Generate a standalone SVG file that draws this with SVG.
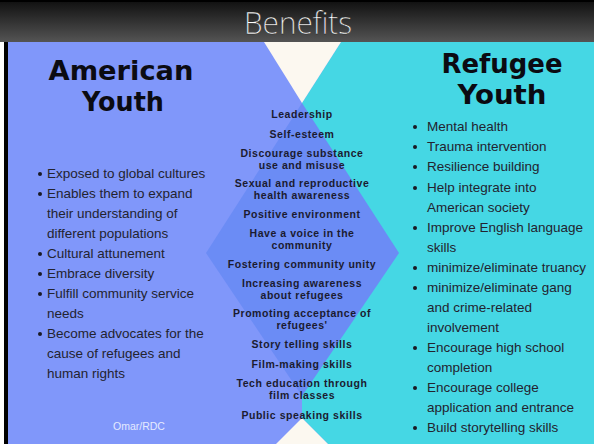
<svg xmlns="http://www.w3.org/2000/svg" width="594" height="444" viewBox="0 0 594 444">
<defs>
<linearGradient id="tg" x1="0" y1="0" x2="0" y2="1">
<stop offset="0" stop-color="#121212"/>
<stop offset="1" stop-color="#545454"/>
</linearGradient>
<style>
.hd{font-family:"DejaVu Sans","Liberation Sans",sans-serif;font-weight:bold;font-size:26px;fill:#0b0b12;text-anchor:middle}
.ct{font-family:"Liberation Sans","Arial",sans-serif;font-weight:bold;font-size:10.5px;letter-spacing:0.55px;fill:#1b1b30;text-anchor:middle}
.bl{font-family:"Liberation Sans","Arial",sans-serif;font-size:13.5px;fill:#23232f}
.dot{fill:#1a1a24}
</style>
</defs>
<g id="background">
<rect x="0" y="0" width="594" height="444" fill="#000"/>
<rect x="0" y="42" width="4" height="402" fill="#ffffff"/>
<rect x="8" y="42" width="586" height="402" fill="#8097fa"/>
<polygon points="341,42 594,42 594,444 328,444 302,418 302,103" fill="#45d7e4"/>
<polygon points="264,42 341,42 302,103" fill="#fcf8f0"/>
<polygon points="276,444 328,444 302,418" fill="#fcf8f0"/>
<polygon points="302,103 399,253 302,396 206,253" fill="#6b8cf5"/>
</g>
<g id="title">
<rect x="0" y="2" width="594" height="40" fill="url(#tg)"/>
<text x="298" y="34" font-family="'Open Sans','DejaVu Sans',sans-serif" font-weight="300" font-size="32" fill="#ffffff" stroke="#222" stroke-width="0.4" text-anchor="middle" textLength="108" lengthAdjust="spacingAndGlyphs">Benefits</text>
</g>
<g id="connectors"></g>
<g id="american-youth">
<text class="hd" x="121" y="80" textLength="145" lengthAdjust="spacingAndGlyphs">American</text>
<text class="hd" x="123" y="111" textLength="82" lengthAdjust="spacingAndGlyphs">Youth</text>
<circle class="dot" cx="40" cy="174" r="2"/>
<circle class="dot" cx="40" cy="194" r="2"/>
<circle class="dot" cx="40" cy="254" r="2"/>
<circle class="dot" cx="40" cy="274" r="2"/>
<circle class="dot" cx="40" cy="294" r="2"/>
<circle class="dot" cx="40" cy="334" r="2"/>
<text class="bl" x="47" y="178">Exposed to global cultures</text>
<text class="bl" x="47" y="198">Enables them to expand</text>
<text class="bl" x="47" y="218">their understanding of</text>
<text class="bl" x="47" y="238">different populations</text>
<text class="bl" x="47" y="258">Cultural attunement</text>
<text class="bl" x="47" y="278">Embrace diversity</text>
<text class="bl" x="47" y="298">Fulfill community service</text>
<text class="bl" x="47" y="318">needs</text>
<text class="bl" x="47" y="338">Become advocates for the</text>
<text class="bl" x="47" y="358">cause of refugees and</text>
<text class="bl" x="47" y="378">human rights</text>
<text x="139" y="430" font-family="'Liberation Sans',Arial,sans-serif" font-size="10.5" fill="#e4eaff" text-anchor="middle">Omar/RDC</text>
</g>
<g id="shared-benefits">
<text class="ct" x="302" y="118">Leadership</text>
<text class="ct" x="302" y="138">Self-esteem</text>
<text class="ct" x="302" y="157">Discourage substance</text>
<text class="ct" x="302" y="169">use and misuse</text>
<text class="ct" x="302" y="187">Sexual and reproductive</text>
<text class="ct" x="302" y="199">health awareness</text>
<text class="ct" x="302" y="218">Positive environment</text>
<text class="ct" x="302" y="237">Have a voice in the</text>
<text class="ct" x="302" y="249">community</text>
<text class="ct" x="302" y="268">Fostering community unity</text>
<text class="ct" x="302" y="287">Increasing awareness</text>
<text class="ct" x="302" y="299">about refugees</text>
<text class="ct" x="302" y="317">Promoting acceptance of</text>
<text class="ct" x="302" y="329">refugees'</text>
<text class="ct" x="302" y="348">Story telling skills</text>
<text class="ct" x="302" y="368">Film-making skills</text>
<text class="ct" x="302" y="387">Tech education through</text>
<text class="ct" x="302" y="399">film classes</text>
<text class="ct" x="302" y="419">Public speaking skills</text>
</g>
<g id="refugee-youth">
<text class="hd" x="502" y="73" textLength="121" lengthAdjust="spacingAndGlyphs">Refugee</text>
<text class="hd" x="502" y="104" textLength="89" lengthAdjust="spacingAndGlyphs">Youth</text>
<circle class="dot" cx="415" cy="127" r="2"/>
<circle class="dot" cx="415" cy="147" r="2"/>
<circle class="dot" cx="415" cy="167" r="2"/>
<circle class="dot" cx="415" cy="188" r="2"/>
<circle class="dot" cx="415" cy="228" r="2"/>
<circle class="dot" cx="415" cy="268" r="2"/>
<circle class="dot" cx="415" cy="288" r="2"/>
<circle class="dot" cx="415" cy="348" r="2"/>
<circle class="dot" cx="415" cy="388" r="2"/>
<circle class="dot" cx="415" cy="428" r="2"/>
<text class="bl" x="427" y="131">Mental health</text>
<text class="bl" x="427" y="151">Trauma intervention</text>
<text class="bl" x="427" y="171">Resilience building</text>
<text class="bl" x="427" y="192">Help integrate into</text>
<text class="bl" x="427" y="212">American society</text>
<text class="bl" x="427" y="232">Improve English language</text>
<text class="bl" x="427" y="252">skills</text>
<text class="bl" x="427" y="272">minimize/eliminate truancy</text>
<text class="bl" x="427" y="292">minimize/eliminate gang</text>
<text class="bl" x="427" y="312">and crime-related</text>
<text class="bl" x="427" y="332">involvement</text>
<text class="bl" x="427" y="352">Encourage high school</text>
<text class="bl" x="427" y="372">completion</text>
<text class="bl" x="427" y="392">Encourage college</text>
<text class="bl" x="427" y="412">application and entrance</text>
<text class="bl" x="427" y="432">Build storytelling skills</text>
</g>
</svg>
